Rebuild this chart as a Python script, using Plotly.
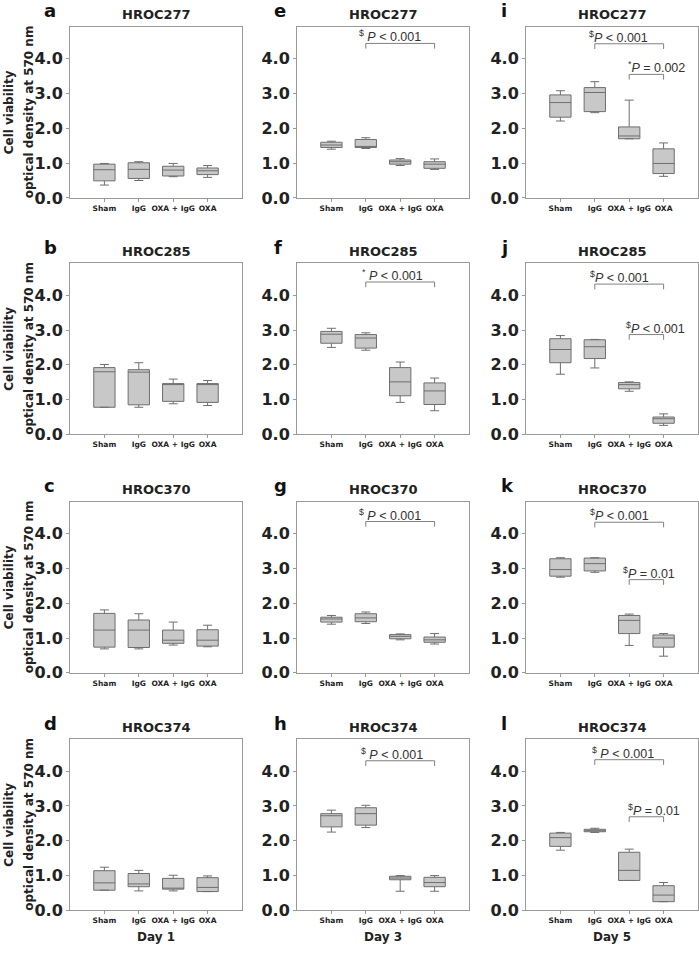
import plotly.graph_objects as go

# Categories and labels
categories = ["Sham", "IgG", "OXA + IgG", "OXA"]
cell_lines = ["HROC277", "HROC285", "HROC370", "HROC374"]
days = ["Day 1", "Day 3", "Day 5"]
letters = list("abcdefghijkl")
y_ticks = [0, 1, 2, 3, 4]

# Box stats (lower whisker, q1, median, q3, upper whisker)
day1_277 = dict(lo=[0.37, 0.50, 0.61, 0.59], q1=[0.49, 0.56, 0.63, 0.67],
                med=[0.81, 0.82, 0.80, 0.78], q3=[0.97, 1.01, 0.91, 0.86], hi=[0.99, 1.04, 0.99, 0.93])
day1_285 = dict(lo=[0.78, 0.78, 0.88, 0.83], q1=[0.78, 0.85, 0.95, 0.92],
                med=[1.80, 1.79, 1.44, 1.44], q3=[1.92, 1.86, 1.46, 1.46], hi=[2.01, 2.06, 1.59, 1.55])
day1_370 = dict(lo=[0.69, 0.69, 0.80, 0.75], q1=[0.74, 0.73, 0.85, 0.77],
                med=[1.23, 1.23, 0.94, 0.94], q3=[1.71, 1.52, 1.23, 1.24], hi=[1.81, 1.70, 1.46, 1.37])
day1_374 = dict(lo=[0.58, 0.56, 0.56, 0.54], q1=[0.58, 0.68, 0.61, 0.54],
                med=[0.79, 0.76, 0.63, 0.66], q3=[1.14, 1.06, 0.92, 0.94], hi=[1.24, 1.15, 1.01, 0.99])

day3_277 = dict(lo=[1.40, 1.42, 0.93, 0.82], q1=[1.45, 1.45, 0.97, 0.85],
                med=[1.52, 1.48, 1.04, 0.97], q3=[1.60, 1.68, 1.09, 1.04], hi=[1.63, 1.73, 1.13, 1.12])
day3_285 = dict(lo=[2.50, 2.42, 0.92, 0.68], q1=[2.62, 2.48, 1.11, 0.86],
                med=[2.88, 2.77, 1.51, 1.25], q3=[2.96, 2.87, 1.92, 1.48], hi=[3.05, 2.92, 2.08, 1.62])
day3_370 = dict(lo=[1.40, 1.42, 0.95, 0.83], q1=[1.46, 1.47, 0.98, 0.88],
                med=[1.55, 1.58, 1.05, 0.95], q3=[1.60, 1.70, 1.10, 1.03], hi=[1.65, 1.75, 1.12, 1.13])
day3_374 = dict(lo=[2.25, 2.38, 0.55, 0.55], q1=[2.40, 2.45, 0.88, 0.68],
                med=[2.72, 2.78, 0.93, 0.80], q3=[2.78, 2.95, 0.98, 0.95], hi=[2.88, 3.02, 1.00, 1.00])

day5_277 = dict(lo=[2.21, 2.45, 1.70, 0.62], q1=[2.32, 2.48, 1.70, 0.70],
                med=[2.74, 3.03, 1.78, 0.99], q3=[2.96, 3.17, 2.04, 1.41], hi=[3.08, 3.34, 2.81, 1.58])
day5_285 = dict(lo=[1.73, 1.91, 1.24, 0.26], q1=[2.06, 2.18, 1.31, 0.32],
                med=[2.44, 2.52, 1.43, 0.45], q3=[2.75, 2.72, 1.49, 0.50], hi=[2.84, 2.73, 1.51, 0.59])
day5_370 = dict(lo=[2.75, 2.89, 0.79, 0.48], q1=[2.78, 2.93, 1.13, 0.74],
                med=[2.97, 3.14, 1.51, 1.00], q3=[3.28, 3.30, 1.65, 1.09], hi=[3.31, 3.31, 1.69, 1.13])
day5_374 = dict(lo=[1.73, 2.24, 0.86, 0.25], q1=[1.84, 2.26, 0.86, 0.25],
                med=[2.09, 2.29, 1.15, 0.44], q3=[2.22, 2.33, 1.67, 0.71], hi=[2.24, 2.36, 1.76, 0.80])

panels = [day1_277, day1_285, day1_370, day1_374,
          day3_277, day3_285, day3_370, day3_374,
          day5_277, day5_285, day5_370, day5_374]

# Significance brackets: (from category, to category, height, label, text offset)
brackets = {
    4: [(2, 4, 4.44, "<sup>$</sup> <i>P</i> &lt; 0.001", -0.27)],
    5: [(2, 4, 4.38, "<sup>*</sup> <i>P</i> &lt; 0.001", -0.18)],
    6: [(2, 4, 4.35, "<sup>$</sup> <i>P</i> &lt; 0.001", -0.27)],
    7: [(2, 4, 4.30, "<sup>$</sup> <i>P</i> &lt; 0.001", -0.2)],
    8: [(2, 4, 4.43, "<sup>$</sup><i>P</i> &lt; 0.001", -0.23),
        (3, 4, 3.55, "<sup>*</sup><i>P</i> = 0.002", -0.1)],
    9: [(2, 4, 4.32, "<sup>$</sup><i>P</i> &lt; 0.001", -0.2),
        (3, 4, 2.87, "<sup>$</sup><i>P</i> &lt; 0.001", -0.15)],
    10: [(2, 4, 4.33, "<sup>$</sup><i>P</i> &lt; 0.001", -0.2),
         (3, 4, 2.68, "<sup>$</sup><i>P</i> = 0.01", -0.23)],
    11: [(2, 4, 4.33, "<sup>$</sup> <i>P</i> &lt; 0.001", -0.15),
         (3, 4, 2.69, "<sup>$</sup><i>P</i> = 0.01", -0.1)],
}

W, H = 699, 956
col_px = [(70, 242), (297, 469), (526, 698)]
row_px = [(27, 200), (266, 439), (507, 680), (747, 920)]
letter_x = [42, 272, 499]

BOLD = "DejaVu Sans"
frame = "#9a9a9a"

fig = go.Figure()
shapes, annotations = [], []
layout = {}

for p, stats in enumerate(panels):
    col, row = divmod(p, 4)
    n = p + 1
    xa = "x" if n == 1 else f"x{n}"
    ya = "y" if n == 1 else f"y{n}"
    x0, x1 = col_px[col]
    top, bot = row_px[row]

    fig.add_trace(go.Box(
        x=[1, 2, 3, 4],
        lowerfence=stats["lo"], q1=stats["q1"], median=stats["med"],
        q3=stats["q3"], upperfence=stats["hi"],
        xaxis=xa, yaxis=ya, width=0.62, whiskerwidth=0.42,
        fillcolor="#c8c8c8", line=dict(color="#6e6e6e", width=1),
        boxpoints=False, showlegend=False, hoverinfo="skip"
    ))

    layout["xaxis" if n == 1 else f"xaxis{n}"] = dict(
        domain=[x0 / W, x1 / W], anchor=ya, range=[0, 5],
        tickvals=[1, 2, 3, 4], ticktext=categories,
        ticks="outside", ticklen=3, tickcolor=frame,
        tickfont=dict(family=BOLD, size=7.5, color="#222", weight="bold"),
        showline=True, mirror=True, linecolor=frame, linewidth=1,
        showgrid=False, zeroline=False, fixedrange=True)
    layout["yaxis" if n == 1 else f"yaxis{n}"] = dict(
        domain=[1 - bot / H, 1 - top / H], anchor=xa, range=[0, 4.92],
        tickvals=y_ticks, tickformat=".1f",
        ticks="outside", ticklen=3, tickcolor=frame,
        tickfont=dict(family=BOLD, size=16, color="#222", weight="bold"),
        showline=True, mirror=True, linecolor=frame, linewidth=1,
        showgrid=False, zeroline=False, fixedrange=True)

    # panel letter and cell line title
    annotations.append(dict(
        x=letter_x[col] / W, y=1 - (top - 16) / H, xref="paper", yref="paper",
        text=letters[p], showarrow=False, xanchor="left", yanchor="middle",
        font=dict(family=BOLD, size=18, color="#111", weight="bold")))
    annotations.append(dict(
        x=(x0 + x1) / 2 / W, y=1 - (top - 12) / H, xref="paper", yref="paper",
        text=cell_lines[row], showarrow=False, xanchor="center", yanchor="middle",
        font=dict(family=BOLD, size=13, color="#222", weight="bold")))

    if col == 0:
        mid = 1 - (top + bot) / 2 / H
        for xpx, txt in [(9, "Cell viability"), (29, "optical density at 570 nm")]:
            annotations.append(dict(
                x=xpx / W, y=mid, xref="paper", yref="paper", text=txt,
                textangle=-90, showarrow=False, xanchor="center", yanchor="middle",
                font=dict(family=BOLD, size=12, color="#222", weight="bold")))

    if row == 3:
        annotations.append(dict(
            x=(x0 + x1) / 2 / W, y=1 - 947 / H, xref="paper", yref="paper",
            text=days[col], showarrow=False, xanchor="center", yanchor="middle",
            font=dict(family=BOLD, size=12, color="#222", weight="bold")))

    for (c1, c2, yb, label, dx) in brackets.get(p, []):
        drop = 0.15
        shapes.append(dict(
            type="path", xref=xa, yref=ya,
            path=f"M {c1},{yb - drop} L {c1},{yb} L {c2},{yb} L {c2},{yb - drop}",
            line=dict(color="#808080", width=1)))
        annotations.append(dict(
            x=c1 + dx, y=yb, xref=xa, yref=ya, text=label, showarrow=False,
            xanchor="left", yanchor="bottom", yshift=-3,
            font=dict(family="Liberation Sans", size=12.5, color="#333")))

fig.update_layout(
    width=W, height=H, autosize=False,
    margin=dict(l=0, r=0, t=0, b=0),
    paper_bgcolor="white", plot_bgcolor="white",
    shapes=shapes, annotations=annotations,
    **layout
)

# drop the default page margin so the figure sits at the window origin
fig.write_html("out.html", config={"displayModeBar": False},
               post_script="document.body.style.margin='0';document.body.style.overflow='hidden';")
